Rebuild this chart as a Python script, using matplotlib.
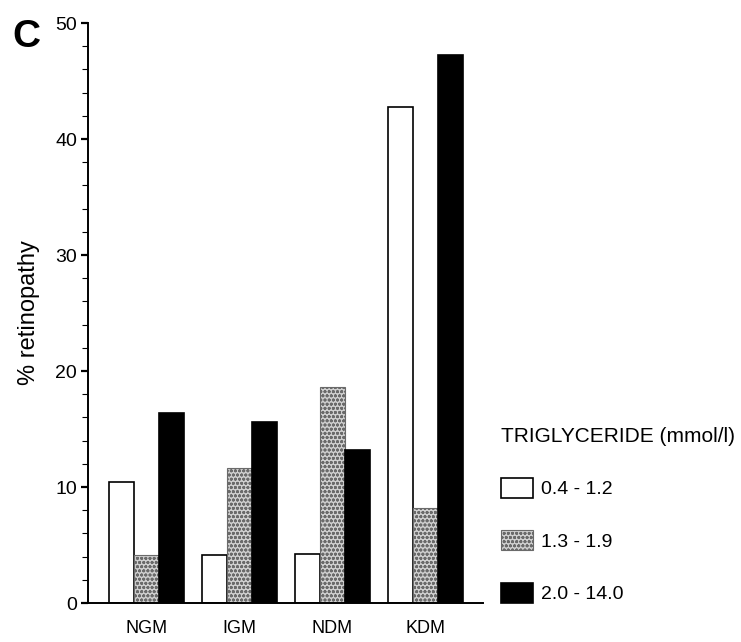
import numpy as np
import matplotlib
matplotlib.use("Agg")
import matplotlib.pyplot as plt

plt.rcParams['font.family'] = ['Liberation Sans', 'DejaVu Sans']
plt.rcParams['hatch.linewidth'] = 0.9
plt.rcParams['hatch.color'] = '#6a6a6a'

# data
groups = ['NGM', 'IGM', 'NDM', 'KDM']
ranges = ['0.4 - 1.2', '1.3 - 1.9', '2.0 - 14.0']
low_tg = [10.4, 4.1, 4.2, 42.8]
mid_tg = [4.1, 11.6, 18.6, 8.2]
high_tg = [16.4, 15.6, 13.2, 47.2]

fig = plt.figure(figsize=(7.41, 6.42), dpi=100)
ax = fig.add_axes([88 / 741, 39 / 642, 395 / 741, 580 / 642])

x = np.arange(len(groups))
w = 0.27
b1 = ax.bar(x - w, low_tg, w, color='white', edgecolor='black', linewidth=1.2)
b2 = ax.bar(x, mid_tg, w, color='#cfcfcf', edgecolor='#6a6a6a', linewidth=0.8, hatch='oooo')
b3 = ax.bar(x + w, high_tg, w, color='black', edgecolor='black', linewidth=1.2)

ax.set_xlim(-0.63, 3.62)
ax.set_ylim(0, 50)
ax.set_yticks([0, 10, 20, 30, 40, 50])
ax.set_yticks(np.arange(0, 51, 2), minor=True)
ax.set_xticks(x)
ax.set_xticklabels(groups, fontsize=13)
ax.tick_params(axis='x', length=0, pad=12)
ax.tick_params(axis='y', which='major', length=5, width=1.6, labelsize=14, pad=3)
ax.tick_params(axis='y', which='minor', length=4, width=0.8)
for s in ['top', 'right']:
    ax.spines[s].set_visible(False)
for s in ['left', 'bottom']:
    ax.spines[s].set_linewidth(1.4)
ax.set_ylabel('% retinopathy', fontsize=17, labelpad=11)

leg = fig.legend([b1, b2, b3], ranges, title='TRIGLYCERIDE (mmol/l)',
                 loc='upper left', bbox_to_anchor=(483 / 741, 1 - 409 / 642),
                 frameon=False, fontsize=14, title_fontsize=15,
                 handlelength=1.65, handleheight=1.2, labelspacing=1.65,
                 handletextpad=0.45, alignment='left')

fig.text(12 / 741, 1 - 47 / 642, 'C', fontsize=28, fontweight='bold')

fig.savefig('out.png', dpi=100)
